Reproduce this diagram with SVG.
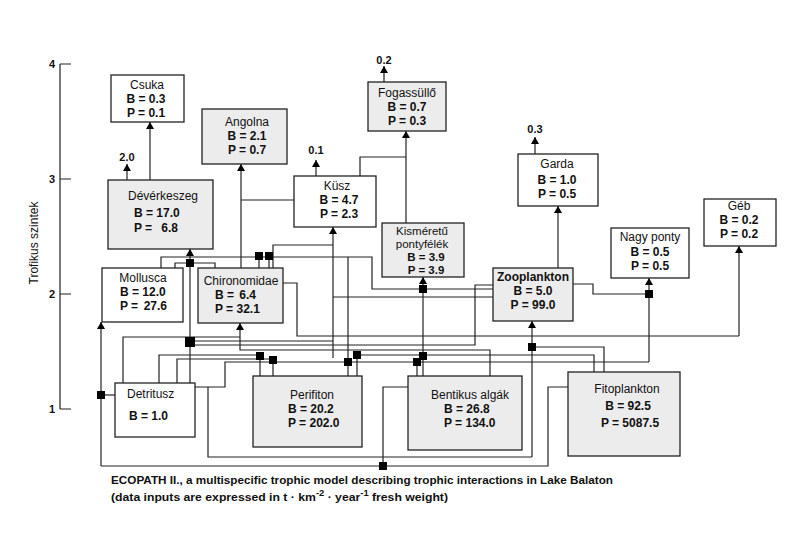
<svg xmlns="http://www.w3.org/2000/svg" width="798" height="557" viewBox="0 0 798 557">
<style>
text{font-family:"Liberation Sans",Arial,sans-serif;fill:#111}
.n{font-size:12px}
.v{font-size:12px;font-weight:bold}
.s{font-size:11.5px}
.sv{font-size:11.5px;font-weight:bold}
.c{font-size:11px;font-weight:bold}
.cap{font-size:11.7px;font-weight:bold}
.box{stroke:#222;stroke-width:1.3}
.w{fill:#fff}
.g{fill:#ececec}
.ln{fill:none;stroke:#222;stroke-width:1.2}
.ar{fill:none;stroke:#222;stroke-width:1.2;marker-end:url(#ah)}
.j{fill:#000}
</style>
<defs>
<marker id="ah" markerUnits="userSpaceOnUse" markerWidth="8" markerHeight="8" refX="7" refY="4" orient="auto">
<path d="M0,0 L7,4 L0,8 z" fill="#000"/>
</marker>
</defs>
<rect width="798" height="557" fill="#fff"/>
<g id="axis">
<path class="ln" d="M60,64 V409 M60,64 H71 M60,179 H71 M60,294 H71 M60,409 H71"/>
<text class="c" x="55" y="68" text-anchor="end">4</text>
<text class="c" x="55" y="183" text-anchor="end">3</text>
<text class="c" x="55" y="298" text-anchor="end">2</text>
<text class="c" x="55" y="413" text-anchor="end">1</text>
<text class="n" font-size="12.5" transform="translate(38,243) rotate(-90)" text-anchor="middle">Trofikus szintek</text>
</g>
<g id="connectors">
<path class="ar" d="M150,180 V122"/>
<path class="ar" d="M127,180 V164"/>
<path class="ar" d="M241,268 V164"/>
<path class="ln" d="M294,200 H241"/>
<path class="ar" d="M316,176 V160"/>
<path class="ar" d="M384,82 V66"/>
<path class="ar" d="M406,223 V131"/>
<path class="ln" d="M360,176 V157 H406"/>
<path class="ar" d="M535,154 V137"/>
<path class="ar" d="M558,268 V206"/>
<path class="ln" d="M573,284 H593 V294 H649"/>
<path class="ar" d="M649,362 V278"/>
<path class="ar" d="M739,336 V246"/>
<path class="ln" d="M283,283 H297 V336 H739"/>
<path class="ar" d="M190,383 V249"/>
<path class="ln" d="M175,268 V263 H215 V268"/>
<path class="ln" d="M161,268 V257 H372 V289 H493"/>
<path class="ln" d="M259,268 V257 M269,268 V257 M273,268 V245 H333"/>
<path class="ar" d="M333,358 V227"/>
<path class="ln" d="M493,297 H333"/>
<path class="ln" d="M348,257 V376"/>
<path class="ar" d="M423,376 V277"/>
<path class="ar" d="M532,457 V321"/>
<path class="ln" d="M532,347 H604 V372"/>
<path class="ln" d="M195,387 H225 V362 H649 M208,387 V457 H532"/>
<path class="ln" d="M594,372 V355 H357 V376"/>
<path class="ar" d="M101,466 V322"/>
<path class="ln" d="M115,395 H101"/>
<path class="ln" d="M101,466 H548 V387 H568"/>
<path class="ln" d="M408,387 H383 V466"/>
<path class="ln" d="M123,383 V337 H240"/>
<path class="ar" d="M490,376 V350 H240 V323"/>
<path class="ln" d="M190,345 H475 V285 H493"/>
<path class="ln" d="M159,383 V355 H260 V376"/>
<path class="ln" d="M177,383 V359 H273 V376"/>
<path class="ln" d="M190,341 H333"/>
<path class="ln" d="M417,362 V376"/>
<rect class="j" x="186" y="259" width="8" height="8"/>
<rect class="j" x="185" y="337" width="10" height="10"/>
<rect class="j" x="255" y="252" width="8" height="8"/>
<rect class="j" x="265" y="252" width="8" height="8"/>
<rect class="j" x="645" y="290" width="8" height="8"/>
<rect class="j" x="419" y="285" width="8" height="8"/>
<rect class="j" x="419" y="352" width="8" height="8"/>
<rect class="j" x="413" y="358" width="8" height="8"/>
<rect class="j" x="344" y="358" width="8" height="8"/>
<rect class="j" x="353" y="351" width="8" height="8"/>
<rect class="j" x="528" y="343" width="8" height="8"/>
<rect class="j" x="256" y="352" width="8" height="8"/>
<rect class="j" x="269" y="356" width="8" height="8"/>
<rect class="j" x="97" y="391" width="8" height="8"/>
<rect class="j" x="379" y="462" width="8" height="8"/>
</g>
<g id="csuka">
<rect class="box w" x="111" y="75" width="73" height="47"/>
<text class="n" x="147" y="89" text-anchor="middle">Csuka</text>
<text class="v" x="146" y="103" text-anchor="middle">B = 0.3</text>
<text class="v" x="146" y="117" text-anchor="middle">P = 0.1</text>
</g>
<g id="angolna">
<rect class="box g" x="202" y="109" width="85" height="55"/>
<text class="n" x="247" y="126" text-anchor="middle">Angolna</text>
<text class="v" x="247" y="140" text-anchor="middle">B = 2.1</text>
<text class="v" x="247" y="154" text-anchor="middle">P = 0.7</text>
</g>
<g id="deverkeszeg">
<rect class="box g" x="108" y="180" width="105" height="69"/>
<text class="n" x="163" y="200" text-anchor="middle">Dévérkeszeg</text>
<text class="v" x="134" y="217">B = 17.0</text>
<text class="v" x="134" y="232">P =</text>
<text class="v" x="178" y="232" text-anchor="end">6.8</text>
<text class="c" x="127" y="161" text-anchor="middle">2.0</text>
</g>
<g id="kusz">
<rect class="box w" x="294" y="176" width="82" height="51"/>
<text class="n" x="337" y="190" text-anchor="middle">Küsz</text>
<text class="v" x="339" y="204" text-anchor="middle">B = 4.7</text>
<text class="v" x="339" y="218" text-anchor="middle">P = 2.3</text>
<text class="c" x="316" y="154" text-anchor="middle">0.1</text>
</g>
<g id="fogassullo">
<rect class="box g" x="368" y="82" width="78" height="49"/>
<text class="n" x="407" y="97" text-anchor="middle">Fogassüllő</text>
<text class="v" x="407" y="111" text-anchor="middle">B = 0.7</text>
<text class="v" x="407" y="125" text-anchor="middle">P = 0.3</text>
<text class="c" x="384" y="64" text-anchor="middle">0.2</text>
</g>
<g id="kismeretu">
<rect class="box g" x="382" y="223" width="82" height="54"/>
<text class="s" x="422" y="235" text-anchor="middle">Kisméretű</text>
<text class="s" x="422" y="248" text-anchor="middle">pontyfélék</text>
<text class="sv" x="426" y="261" text-anchor="middle">B = 3.9</text>
<text class="sv" x="426" y="274" text-anchor="middle">P = 3.9</text>
</g>
<g id="garda">
<rect class="box w" x="518" y="154" width="80" height="52"/>
<text class="n" x="557" y="168" text-anchor="middle">Garda</text>
<text class="v" x="557" y="184" text-anchor="middle">B = 1.0</text>
<text class="v" x="557" y="198" text-anchor="middle">P = 0.5</text>
<text class="c" x="535" y="133" text-anchor="middle">0.3</text>
</g>
<g id="nagyponty">
<rect class="box w" x="611" y="228" width="78" height="50"/>
<text class="n" x="650" y="241" text-anchor="middle">Nagy ponty</text>
<text class="v" x="650" y="256" text-anchor="middle">B = 0.5</text>
<text class="v" x="650" y="270" text-anchor="middle">P = 0.5</text>
</g>
<g id="geb">
<rect class="box w" x="704" y="199" width="72" height="47"/>
<text class="n" x="739" y="210" text-anchor="middle">Géb</text>
<text class="v" x="739" y="224" text-anchor="middle">B = 0.2</text>
<text class="v" x="739" y="238" text-anchor="middle">P = 0.2</text>
</g>
<g id="zooplankton">
<rect class="box g" x="493" y="268" width="80" height="53"/>
<text class="v" x="533" y="281" text-anchor="middle">Zooplankton</text>
<text class="v" x="533" y="295" text-anchor="middle">B = 5.0</text>
<text class="v" x="533" y="309" text-anchor="middle">P = 99.0</text>
</g>
<g id="mollusca">
<rect class="box w" x="102" y="268" width="81" height="54"/>
<text class="n" x="143" y="282" text-anchor="middle">Mollusca</text>
<text class="v" x="120" y="296">B = 12.0</text>
<text class="v" x="120" y="310">P =</text>
<text class="v" x="167" y="310" text-anchor="end">27.6</text>
</g>
<g id="chironomidae">
<rect class="box g" x="198" y="268" width="85" height="55"/>
<text class="n" x="241" y="285" text-anchor="middle">Chironomidae</text>
<text class="v" x="215" y="299">B =</text>
<text class="v" x="256" y="299" text-anchor="end">6.4</text>
<text class="v" x="215" y="313">P = 32.1</text>
</g>
<g id="detritusz">
<rect class="box w" x="115" y="383" width="80" height="54"/>
<text class="n" x="127" y="398">Detritusz</text>
<text class="v" x="129" y="420">B = 1.0</text>
</g>
<g id="perifiton">
<rect class="box g" x="253" y="376" width="109" height="71"/>
<text class="n" x="312" y="399" text-anchor="middle">Perifiton</text>
<text class="v" x="288" y="413">B = 20.2</text>
<text class="v" x="288" y="427">P = 202.0</text>
</g>
<g id="bentikus">
<rect class="box g" x="408" y="376" width="114" height="74"/>
<text class="n" x="470" y="399" text-anchor="middle">Bentikus algák</text>
<text class="v" x="444" y="413">B = 26.8</text>
<text class="v" x="444" y="427">P = 134.0</text>
</g>
<g id="fitoplankton">
<rect class="box g" x="568" y="372" width="112" height="84"/>
<text class="n" x="627" y="393" text-anchor="middle">Fitoplankton</text>
<text class="v" x="628" y="410" text-anchor="middle">B = 92.5</text>
<text class="v" x="630" y="427" text-anchor="middle">P = 5087.5</text>
</g>
<g id="caption">
<text class="cap" x="111" y="484" textLength="502" lengthAdjust="spacingAndGlyphs">ECOPATH II., a multispecific trophic model describing trophic interactions in Lake Balaton</text>
<text class="cap" x="111" y="501" textLength="337" lengthAdjust="spacingAndGlyphs">(data inputs are expressed in t · km<tspan font-size="9" dy="-5">-2</tspan><tspan dy="5"> · year</tspan><tspan font-size="9" dy="-5">-1</tspan><tspan dy="5"> fresh weight)</tspan></text>
</g>
</svg>
